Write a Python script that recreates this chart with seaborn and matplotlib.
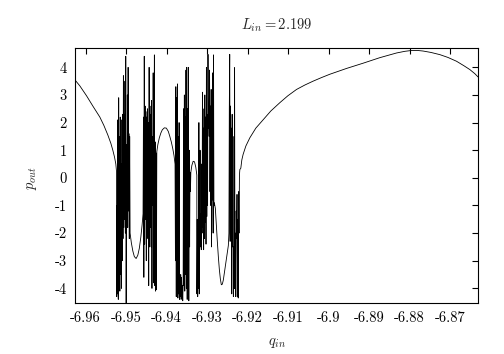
import numpy as np
import pandas as pd
import matplotlib
matplotlib.use("Agg")
import matplotlib.pyplot as plt
import seaborn as sns

# smooth branch, left edge
q_left = [-6.96264, -6.96141, -6.95975, -6.95820, -6.95647, -6.95548, -6.95449,
          -6.95375, -6.95326, -6.95284, -6.95252, -6.95235]
p_left = [3.55, 3.33, 2.97, 2.60, 2.20, 1.90, 1.55, 1.25, 1.00, 0.75, 0.50, 0.23]

# chaotic band 1
p_chaos1 = [-4.3, -1.0, -4.2, 2.1, -4.4, 2.9, -3.8, 1.5, -4.1, 2.2, -3.5, 2.1, -4.0,
            0.5, -3.0, 2.3, -2.2, 3.7, -1.8, 2.3, -1.5, 3.5, -2.0, 4.4, -5.5, 1.2,
            -1.5, 3.0, -1.8, 4.0, -1.2, 1.6, -2.2, 1.5, -2.0]
q_chaos1 = np.linspace(-6.9523, -6.9490, len(p_chaos1))

# first dip
q_dip1 = [-6.94869, -6.94832, -6.94795, -6.94751, -6.94709, -6.94672, -6.94635,
          -6.94603, -6.94580]
p_dip1 = [-2.35, -2.65, -2.85, -2.92, -2.80, -2.55, -2.15, -1.70, -1.30]

# chaotic band 2
p_chaos2 = [2.2, -3.6, 4.4, -2.4, 2.6, -1.5, 2.4, -3.0, 2.2, -1.2, 2.5, -2.2, 2.0,
            -3.9, 4.0, -2.5, 2.6, -1.8, 2.3, -2.5, 2.8, -4.0, 1.5, -1.0, 3.8, -3.8,
            1.0, 4.45, -3.9, 1.3, -4.1, 0.9, -4.05]
q_chaos2 = np.linspace(-6.9457, -6.9425, len(p_chaos2))

# hump
q_hump1 = [-6.94240, -6.94215, -6.94178, -6.94141, -6.94104, -6.94054, -6.94005,
           -6.93956, -6.93919, -6.93882, -6.93845, -6.93815, -6.93790]
p_hump1 = [0.95, 1.20, 1.45, 1.62, 1.74, 1.81, 1.80, 1.68, 1.50, 1.30, 1.05, 0.80, 0.50]

# chaotic band 3
p_chaos3 = [-3.0, 3.3, -4.3, 2.9, -3.8, 3.4, -4.35, 1.5, -4.2, 2.0, -4.4, -3.7, -4.3,
            -3.5, -4.4, -3.6, -4.3, -3.9, -4.45, -3.8, 2.5, -3.9, 3.0, -4.1, 2.2,
            -3.5, 3.9, -4.0, 4.0, -4.4, 2.5, -3.2, 4.0, -4.45, 1.0, -2.5, 0.2, -0.5]
q_chaos3 = np.linspace(-6.9378, -6.9341, len(p_chaos3))

# small hump
q_hump2 = [-6.93400, -6.93375, -6.93343, -6.93309, -6.93277, -6.93252]
p_hump2 = [0.20, 0.45, 0.60, 0.58, 0.38, 0.10]

# chaotic band 4
p_chaos4 = [-4.2, -1.5, -4.3, -1.8, -4.0, 2.0, -4.2, -2.0, 1.0, -2.5, -1.3, -2.6, 0.5,
            -2.0, 3.1, -1.8, 1.8, -2.6, 2.5, -2.2, 3.0, -1.6, 2.2, -2.4, 4.0, -1.4,
            2.3, -1.0, 4.47, 1.8, 2.6, 1.5, 3.9, -0.5, 2.6, -1.0, 3.2, -2.5, 2.0,
            -0.8, 3.8, -2.0, 4.45, -1.0]
q_chaos4 = np.linspace(-6.9325, -6.9283, len(p_chaos4))

# second dip
q_dip2 = [-6.92820, -6.92795, -6.92771, -6.92746, -6.92721, -6.92697, -6.92672,
          -6.92647, -6.92623, -6.92598, -6.92573, -6.92549, -6.92524, -6.92499,
          -6.92474]
p_dip2 = [-0.9, -1.1, -1.7, -2.3, -2.85, -3.3, -3.65, -3.87, -3.85, -3.7, -3.45,
          -3.2, -2.95, -2.7, -2.45]

# chaotic band 5
p_chaos5 = [-2.0, 2.5, 4.47, -2.3, 2.6, -1.5, 1.8, -4.2, 2.3, -2.5, 1.5, -4.3, -2.5,
            -4.0, 3.99, -4.0, -2.0, -4.3, -1.2, -2.2, -0.6, -4.3, -1.5, -4.35, -0.5,
            -2.0, 0.1, 0.3]
q_chaos5 = np.linspace(-6.9246, -6.9219, len(p_chaos5))

# smooth branch, right side
q_right = [-6.92166, -6.92141, -6.92109, -6.92042, -6.91943, -6.91795, -6.91615,
           -6.91425, -6.91203, -6.91005, -6.90790, -6.90585, -6.90381, -6.90173,
           -6.89968, -6.89556, -6.89146, -6.88734, -6.88321, -6.88116, -6.87951,
           -6.87796, -6.87665, -6.87474, -6.87252, -6.87055, -6.86840, -6.86660,
           -6.86512, -6.86388, -6.86307]
p_right = [0.35, 0.65, 0.85, 1.15, 1.45, 1.80, 2.10, 2.42, 2.72, 2.97, 3.20, 3.36,
           3.50, 3.63, 3.75, 3.96, 4.15, 4.35, 4.52, 4.58, 4.61, 4.61, 4.59, 4.54,
           4.46, 4.36, 4.22, 4.06, 3.92, 3.77, 3.65]

x_ticks = [-6.96, -6.95, -6.94, -6.93, -6.92, -6.91, -6.90, -6.89, -6.88, -6.87]
x_labels = ["-6.96", "-6.95", "-6.94", "-6.93", "-6.92", "-6.91", "-6.9",
            "-6.89", "-6.88", "-6.87"]
y_ticks = [-4, -3, -2, -1, 0, 1, 2, 3, 4]
y_labels = ["-4", "-3", "-2", "-1", "0", "1", "2", "3", "4"]

segments = [(q_left, p_left), (q_chaos1, p_chaos1), (q_dip1, p_dip1),
            (q_chaos2, p_chaos2), (q_hump1, p_hump1), (q_chaos3, p_chaos3),
            (q_hump2, p_hump2), (q_chaos4, p_chaos4), (q_dip2, p_dip2),
            (q_chaos5, p_chaos5), (q_right, p_right)]
df = pd.DataFrame({
    "q": np.concatenate([np.asarray(s[0], float) for s in segments]),
    "p": np.concatenate([np.asarray(s[1], float) for s in segments]),
})

sns.set_style("white")
plt.rcParams["font.family"] = ["cmr10", "DejaVu Serif"]
plt.rcParams["mathtext.fontset"] = "cm"
plt.rcParams["axes.unicode_minus"] = False

fig = plt.figure(figsize=(5.04, 3.54), dpi=100)
ax = fig.add_axes([75 / 504, 1 - 303 / 354, 403 / 504, 255 / 354])

sns.lineplot(data=df, x="q", y="p", sort=False, estimator=None,
             color="black", linewidth=0.6, ax=ax)

ax.set_xlim(-6.9626, -6.8631)
ax.set_ylim(-4.53, 4.70)
ax.set_xticks(x_ticks, x_labels)
ax.set_yticks(y_ticks, y_labels)
ax.tick_params(direction="in", top=True, right=True, length=4.5, width=0.8,
               labelsize=10.5, pad=6, colors="black")
for sp in ax.spines.values():
    sp.set_linewidth(0.8)
    sp.set_color("black")
ax.set_xlabel("")
ax.set_ylabel("")

fig.text(276.5 / 504, 1 - 25 / 354, r"$L_{in} = 2.199$", ha="center", va="center", fontsize=10.5)
fig.text(276.5 / 504, 1 - 343 / 354, r"$q_{in}$", ha="center", va="center", fontsize=10.5)
fig.text(32 / 504, 1 - 178 / 354, r"$p_{out}$", ha="center", va="center",
         rotation=90, fontsize=10.5)

fig.savefig("out.png", dpi=100, facecolor="white")
